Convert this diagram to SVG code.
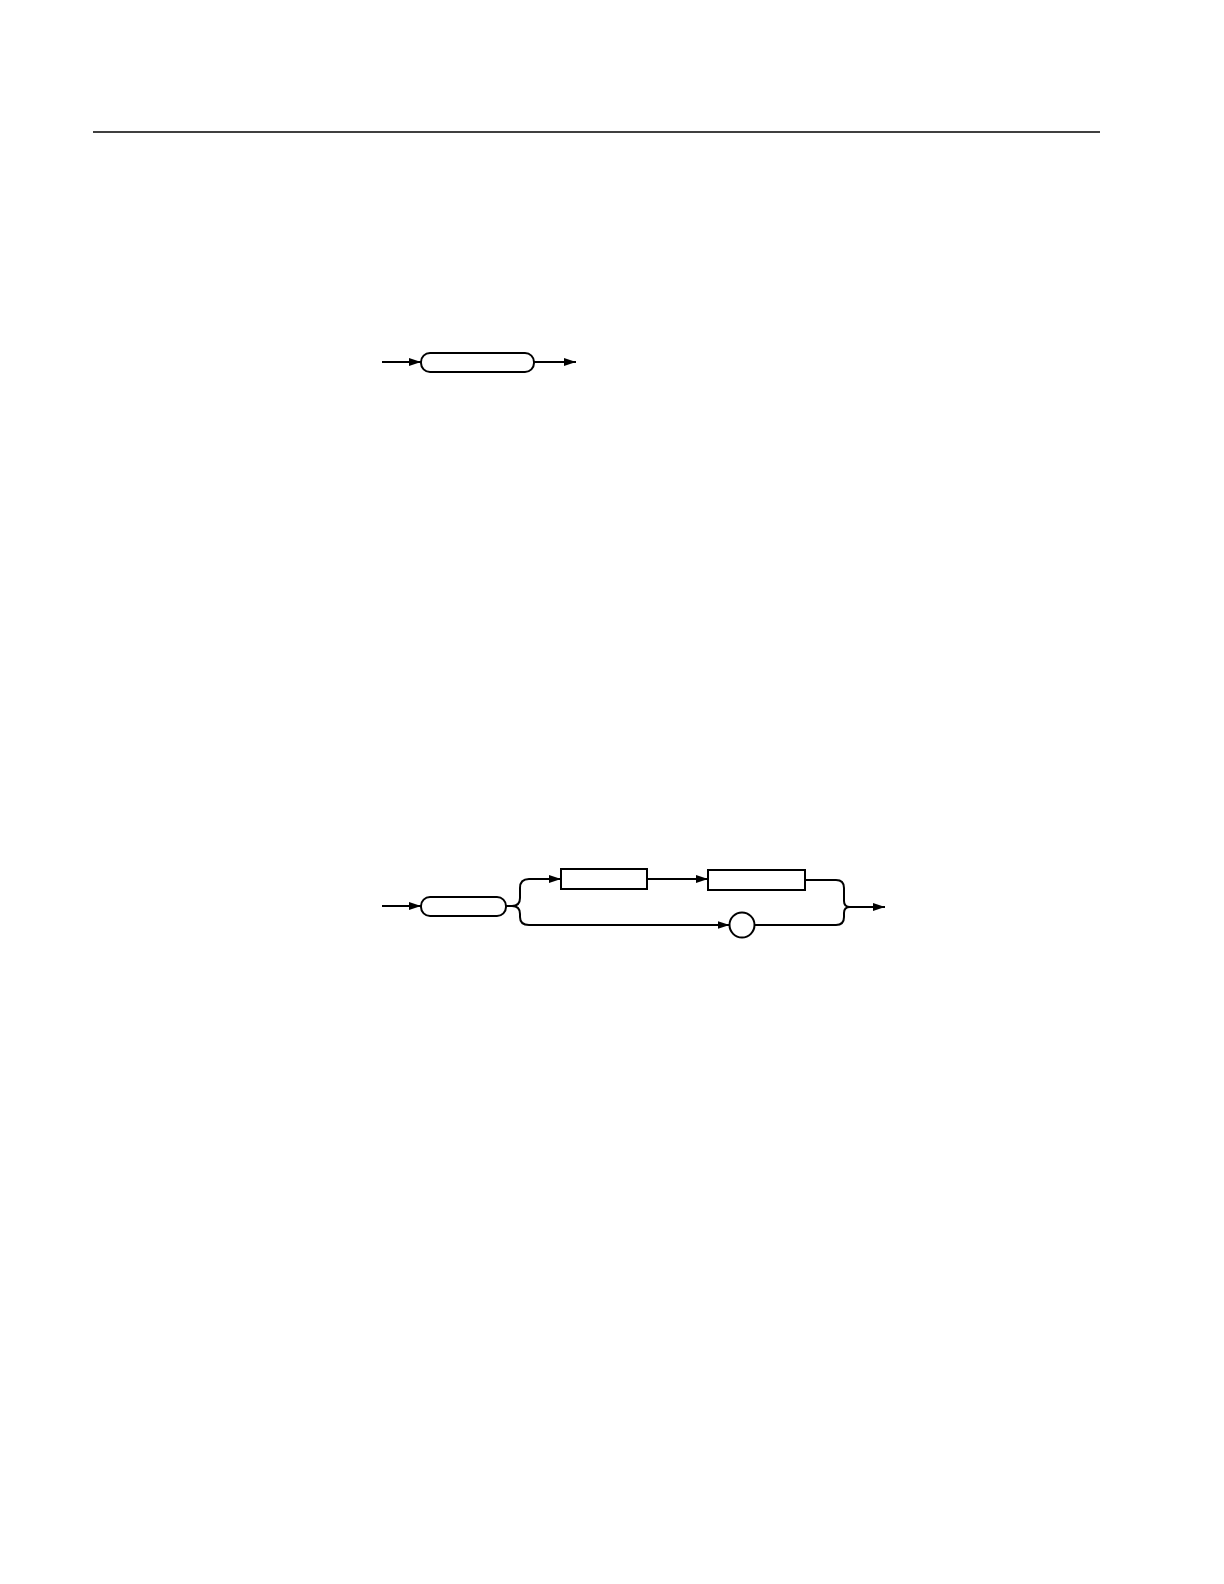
<svg xmlns="http://www.w3.org/2000/svg" width="1224" height="1584" viewBox="0 0 1224 1584">
<style>
.node{fill:#fff;stroke:#000;stroke-width:2}
.conn{fill:none;stroke:#000;stroke-width:2}
.rule{stroke:#000;stroke-width:1.3}
</style>
<defs>
<marker id="arr" markerUnits="userSpaceOnUse" markerWidth="13" markerHeight="9" refX="12" refY="4" orient="auto">
<path d="M0,0 L12,4 L0,8 z" fill="#000"/>
</marker>
</defs>
<rect width="1224" height="1584" fill="#fff"/>
<line class="rule" x1="93" y1="132" x2="1100" y2="132"/>
<g id="connectors">
<line class="conn" x1="382" y1="362" x2="421" y2="362" marker-end="url(#arr)"/>
<line class="conn" x1="534" y1="362" x2="576" y2="362" marker-end="url(#arr)"/>
<line class="conn" x1="382" y1="906" x2="421" y2="906" marker-end="url(#arr)"/>
<path class="conn" d="M506,906 H512 Q520,906 520,898 V888 Q520,879 529,879 H561" marker-end="url(#arr)"/>
<path class="conn" d="M512,906 Q520,906 520,914 V917 Q520,925 529,925 H729.5" marker-end="url(#arr)"/>
<line class="conn" x1="647" y1="879" x2="708" y2="879" marker-end="url(#arr)"/>
<path class="conn" d="M805,880 H836 Q844,880 844,888 V901 Q844,907 850,907"/>
<path class="conn" d="M754.5,925 H836 Q844,925 844,917 V913 Q844,907 850,907"/>
<line class="conn" x1="850" y1="907" x2="885" y2="907" marker-end="url(#arr)"/>
</g>
<g id="node1"><rect class="node" x="421" y="353" width="113" height="19" rx="9"/></g>
<g id="node2"><rect class="node" x="421" y="897" width="85" height="19" rx="9"/></g>
<g id="node3"><rect class="node" x="561" y="869" width="86" height="20"/></g>
<g id="node4"><rect class="node" x="708" y="870" width="97" height="20"/></g>
<g id="node5"><circle class="node" cx="742" cy="925" r="12.5"/></g>
</svg>
